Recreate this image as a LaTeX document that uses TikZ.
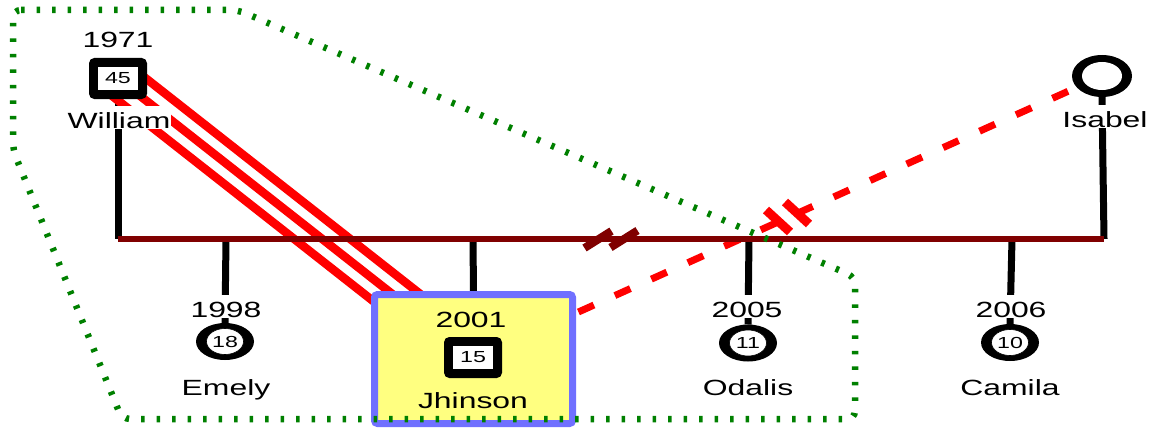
\documentclass[tikz,border=0pt]{standalone}
\usepackage{fontspec}
\newfontfamily\lab{Liberation Sans}[FakeStretch=1.45]
\usetikzlibrary{shapes.geometric,calc}
\pgfdeclarelayer{bg}
\pgfsetlayers{bg,main}
\definecolor{barred}{RGB}{128,0,0}
\definecolor{grn}{RGB}{0,128,0}
\definecolor{boxblue}{RGB}{112,112,255}
\definecolor{boxyel}{RGB}{255,255,128}
\begin{document}
\begin{tikzpicture}[x=1pt,y=-1pt,
  big/.style={font=\lab\fontsize{22}{24}\selectfont, inner sep=0pt, anchor=base},
  lbl/.style={big, fill=white, text height=22pt, text depth=1pt, inner xsep=1pt},
  malesq/.style={draw=black, line width=8pt, fill=white, rounded corners=2pt, minimum width=50pt, minimum height=33pt, inner sep=0pt, outer sep=0pt},
  agesq/.style={draw=black, line width=0.8pt, fill=white, minimum width=41pt, minimum height=24.5pt, inner sep=0pt, font=\lab\fontsize{16}{18}\selectfont},
  femring/.style={ellipse, fill=black, minimum width=58pt, minimum height=37pt, inner sep=0pt, outer sep=0pt},
  femage/.style={ellipse, draw=black, line width=0.6pt, fill=white, minimum width=37pt, minimum height=26pt, inner sep=0pt, font=\lab\fontsize{16}{18}\selectfont},
  life/.style={line width=7pt, black},
  conflict/.style={line width=8.5pt, red},
  cutoff/.style={line width=7pt, red, dash pattern=on 17pt off 23pt, dash phase=33.5pt},
  marriage/.style={line width=6pt, barred},
  sepmark/.style={line width=8pt, barred},
  cutmark/.style={line width=9pt, red},
  household/.style={line width=6.5pt, grn, dash pattern=on 3.5pt off 12pt, rounded corners=8pt},
  focus/.style={draw=boxblue, line width=7pt, fill=boxyel, rounded corners=3pt, minimum width=198pt, minimum height=129pt, inner sep=0pt, outer sep=0pt}
]
\useasboundingbox (0,0) rectangle (1153,436);

% ---- people ----
\node[focus] (Jb) at (473.5,359) {};
\node[malesq] (W) at (118,78.5) {};
\node[agesq] (Wage) at (W.center) {45};
\node[big] (Wyear) at (118,48) {1971};
\node[lbl] (Wname) at (119,128) {William};

\node[malesq] (Jsq) at (473,357.5) {};
\node[agesq] (Jage) at (Jsq.center) {15};
\node[big] (Jyear) at (471,327) {2001};
\node[big] (Jname) at (473,408) {Jhinson};

\node[ellipse, fill=black, minimum width=60pt, minimum height=42pt, inner sep=0pt, outer sep=0pt] (I) at (1102,76) {};
\node[ellipse, fill=white, minimum width=40pt, minimum height=28pt, inner sep=0pt] (Iin) at (I.center) {};
\node[lbl] (Iname) at (1105,127) {Isabel};

\node[femring] (E) at (225,341.5) {};
\node[femage] (Eage) at (E.center) {18};
\node[lbl] (Eyear) at (226,317) {1998};
\node[big] (Ename) at (226,395) {Emely};

\node[femring] (O) at (748,343) {};
\node[femage] (Oage) at (O.center) {11};
\node[lbl] (Oyear) at (747,317) {2005};
\node[big] (Oname) at (748,395) {Odalis};

\node[femring] (C) at (1010,342.5) {};
\node[femage] (Cage) at (C.center) {10};
\node[lbl] (Cyear) at (1011,317) {2006};
\node[big] (Cname) at (1010,395) {Camila};

% ---- bar coordinates ----
\coordinate (bW) at (118,239);
\coordinate (bI) at (1104,239);
\coordinate (bE) at (226,239);
\coordinate (bJ) at (473,239);
\coordinate (bO) at (749,239);
\coordinate (bC) at (1012,239);

\begin{pgfonlayer}{bg}
  % lifelines of parents
  \draw[life] (W.south) -- (bW);
  \draw[life] (I.south) -- (bI);
  % conflict lines William - Jhinson
  \draw[conflict] ($(W.center)!0.03!(Jsq.center)+(0,-22)$) -- ($(Jsq.center)+(0,-22)$);
  \draw[conflict] (W.center) -- (Jsq.center);
  \draw[conflict] ($(W.center)!-0.03!(Jsq.center)+(0,22)$) -- ($(Jsq.center)+(0,22)$);
  % cutoff Jhinson - Isabel
  \draw[cutoff] (Jb) -- (I);
  % children lines
  \draw[life] (bE) -- (E.north);
  \draw[life] (bJ) -- (Jb.north);
  \draw[life] (bO) -- (O.north);
  \draw[life] (bC) -- (C.north);
  % marriage bar
  \draw[marriage] (bW) -- (bI);
\end{pgfonlayer}

% separation marks on the bar
\coordinate (s1) at (598,239.5);
\coordinate (s2) at (624,239);
\draw[sepmark] ($(s1)+(-13.5,8.5)$) -- ($(s1)+(13.5,-8.5)$);
\draw[sepmark] ($(s2)+(-13.5,8.5)$) -- ($(s2)+(13.5,-8.5)$);

% cutoff marks on the dashed line
\coordinate (c1) at (778,221);
\coordinate (c2) at (797,213);
\draw[cutmark] ($(c1)+(-12,-11)$) -- ($(c1)+(12,11)$);
\draw[cutmark] ($(c2)+(-12,-11)$) -- ($(c2)+(12,11)$);

% household boundary
\coordinate (h1) at (13,10);
\coordinate (h2) at (238,10);
\coordinate (h3) at (855,277);
\coordinate (h4) at (855,419);
\coordinate (h5) at (122,419);
\coordinate (h6) at (13,150);
\draw[household] (h1) -- (h2) -- (h3) -- (h4) -- (h5) -- (h6) -- cycle;
\end{tikzpicture}
\end{document}
